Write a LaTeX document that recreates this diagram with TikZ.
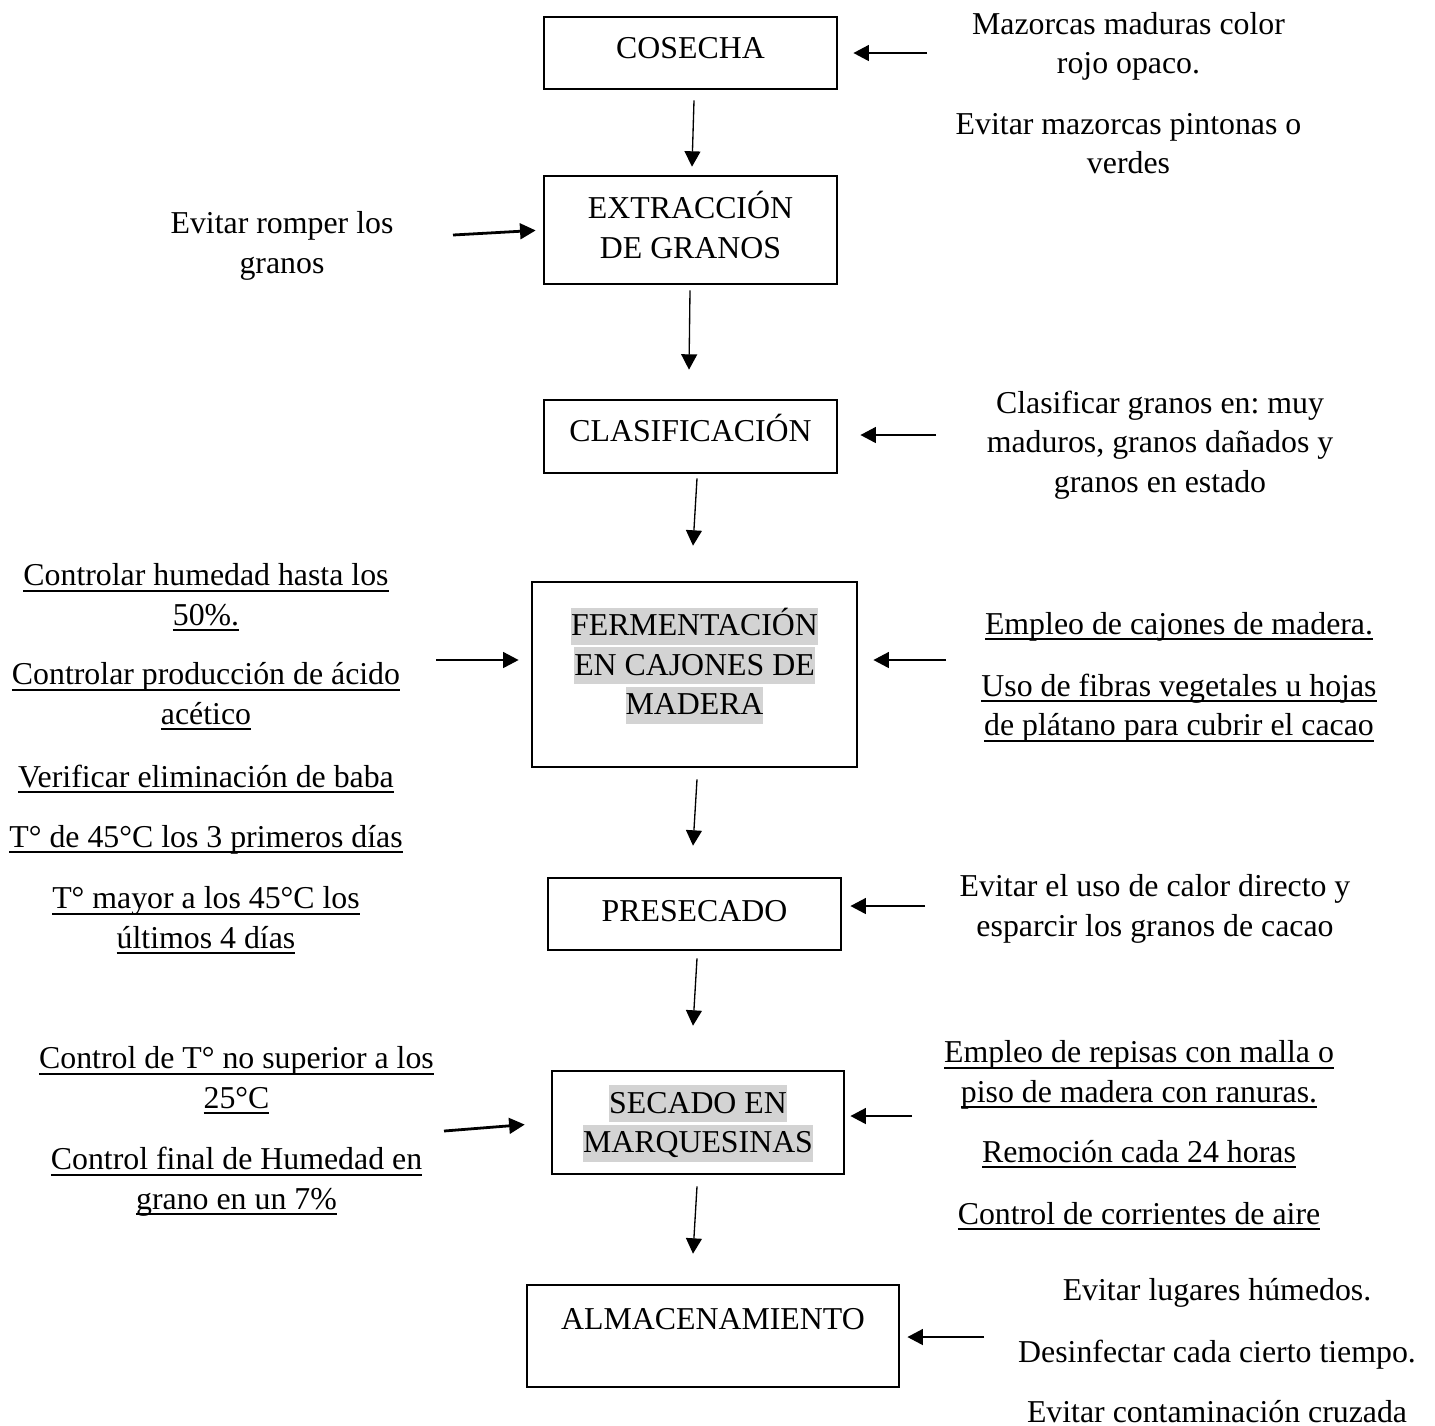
\documentclass[tikz,border=0pt]{standalone}
\usepackage{fontspec}
\setmainfont{Liberation Serif}
\usetikzlibrary{arrows.meta,positioning,calc}
\definecolor{gris}{RGB}{211,211,211}
\newlength{\px}
\setlength{\px}{0.377pt}
\newsavebox{\cajasub}
\newcommand{\pnt}{\rule[-3.4pt]{0pt}{13.96pt}}
\newcommand{\resaltar}[1]{{\fboxsep=0pt\colorbox{gris}{\pnt#1}}}
\newcommand{\subr}[1]{\sbox{\cajasub}{#1}\rlap{\rule[-2.2pt]{\wd\cajasub}{0.7pt}}\usebox{\cajasub}}
\frenchspacing
\tikzset{paso/.style={draw, line width=1pt, inner sep=0pt},
nota/.style={align=center, inner sep=0pt, yshift=-2\px, font=\fontsize{12}{14.89}\selectfont,
execute at begin node=\pnt, execute at end node=\pnt},
entra/.style={line width=1.05pt, -{Triangle[length=5.9pt,width=5.9pt]}},
baja/.style={line width=0.5pt, -{Triangle[length=5.8pt,width=6pt]}}}

\begin{document}
\begin{tikzpicture}[x=0.377pt, y=-0.377pt]
        \useasboundingbox (0,0) rectangle (1435,1425);

        \node[paso, minimum width=293\px, minimum height=72\px] (cosecha) at (690.5, 53) {};
        \node[paso, minimum width=293\px, minimum height=108\px] (extraccion) at (690.5, 230) {};
        \node[paso, minimum width=293\px, minimum height=73\px] (clasif) at (690.5, 436.5) {};
        \node[paso, minimum width=325\px, minimum height=185\px] (ferment) at (694.5, 674.5) {};
        \node[paso, minimum width=293\px, minimum height=72\px] (presecado) at (694.5, 914) {};
        \node[paso, minimum width=292\px, minimum height=103\px] (secado) at (698, 1122.5) {};
        \node[paso, minimum width=372\px, minimum height=102\px] (almacen) at (713, 1336) {};

        \node[nota] (tcosecha) at (690.5, 47) {COSECHA};
        \node[nota] (textraccion) at (690.5, 227.5) {EXTRACCIÓN\\DE GRANOS};
        \node[nota] (tclasif) at (690.5, 430) {CLASIFICACIÓN};
        \node[nota] (tferment) at (694.5, 663.5) {\resaltar{FERMENTACIÓN}\\\resaltar{EN CAJONES DE}\\\resaltar{MADERA}};
        \node[nota] (tpresecado) at (694.5, 910) {PRESECADO};
        \node[nota] (tsecado) at (698, 1121.5) {\resaltar{SECADO EN}\\\resaltar{MARQUESINAS}};
        \node[nota] (talmacen) at (713, 1318) {ALMACENAMIENTO};

        \node[nota] (mazorcas) at (1128.5, 45.5) {Mazorcas maduras color\\rojo opaco.};
        \node[nota] (pintonas) at (1128.5, 146) {Evitar mazorcas pintonas o\\verdes};
        \node[nota] (romper) at (282, 245) {Evitar romper los\\granos};
        \node[nota] (clasificar) at (1160, 444) {Clasificar granos en: muy\\maduros, granos dañados y\\granos en estado};

        \node[nota] (humedad) at (206, 597) {\subr{Controlar humedad hasta los}\\\subr{50\%.}};
        \node[nota] (acido) at (206, 696) {\subr{Controlar producción de ácido}\\\subr{acético}};
        \node[nota] (baba) at (206, 775.5) {\subr{Verificar eliminación de baba}};
        \node[nota] (primeros) at (206, 835.5) {\subr{T° de 45°C los 3 primeros días}};
        \node[nota] (ultimos) at (206, 920) {\subr{T° mayor a los 45°C los}\\\subr{últimos 4 días}};
        \node[nota] (cajones) at (1179, 622.5) {\subr{Empleo de cajones de madera.}};
        \node[nota] (fibras) at (1179, 707.5) {\subr{Uso de fibras vegetales u hojas}\\\subr{de plátano para cubrir el cacao}};

        \node[nota] (calor) at (1155, 908) {Evitar el uso de calor directo y\\esparcir los granos de cacao};

        \node[nota] (tempsec) at (236.5, 1080) {\subr{Control de T° no superior a los}\\\subr{25°C}};
        \node[nota] (humfinal) at (236.5, 1181) {\subr{Control final de Humedad en}\\\subr{grano en un 7\%}};
        \node[nota] (repisas) at (1139, 1074) {\subr{Empleo de repisas con malla o}\\\subr{piso de madera con ranuras.}};
        \node[nota] (remocion) at (1139, 1150.5) {\subr{Remoción cada 24 horas}};
        \node[nota] (aire) at (1139, 1212.5) {\subr{Control de corrientes de aire}};

        \node[nota] (humedos) at (1217, 1288.5) {Evitar lugares húmedos.};
        \node[nota] (desinf) at (1217, 1350.5) {Desinfectar cada cierto tiempo.};
        \node[nota] (cruzada) at (1217, 1410.5) {Evitar contaminación cruzada};

        \coordinate (e1) at (927, 53);
        \coordinate (e2) at (453, 235);
        \coordinate (e3) at (936, 435);
        \coordinate (e4) at (436, 660);
        \coordinate (e5) at (946, 660);
        \coordinate (e6) at (925, 906);
        \coordinate (e7) at (444, 1131);
        \coordinate (e8) at (912, 1116);
        \coordinate (e9) at (984, 1337);

        \draw[entra, shorten >=15\px] (e1) -- (e1 -| cosecha.east);
        \draw[entra, shorten >=7\px] (e2) -- (extraccion.west);
        \draw[entra, shorten >=22\px] (e3) -- (e3 -| clasif.east);
        \draw[entra, shorten >=12\px] (e4) -- (e4 -| ferment.west);
        \draw[entra, shorten >=15\px] (e5) -- (e5 -| ferment.east);
        \draw[entra, shorten >=8\px] (e6) -- (e6 -| presecado.east);
        \draw[entra, shorten >=26\px] (e7) -- (secado.west);
        \draw[entra, shorten >=5\px] (e8) -- (e8 -| secado.east);
        \draw[entra, shorten >=7\px] (e9) -- (e9 -| almacen.east);

        \draw[baja] ([shift={(3.5,10)}]cosecha.south) -- ([shift={(1.5,-8)}]extraccion.north);
        \draw[baja] ([shift={(-0.5,5)}]extraccion.south) -- ([shift={(-1.5,-29)}]clasif.north);
        \draw[baja] ([shift={(6.5,4)}]clasif.south) -- ([shift={(-1.5,-35)}]ferment.north);
        \draw[baja] ([shift={(2.5,11)}]ferment.south) -- ([shift={(-1.5,-31)}]presecado.north);
        \draw[baja] ([shift={(2.5,7)}]presecado.south) -- ([shift={(-5,-44)}]secado.north);
        \draw[baja] ([shift={(-1,11)}]secado.south) -- ([shift={(-20,-30)}]almacen.north);
\end{tikzpicture}
\end{document}
